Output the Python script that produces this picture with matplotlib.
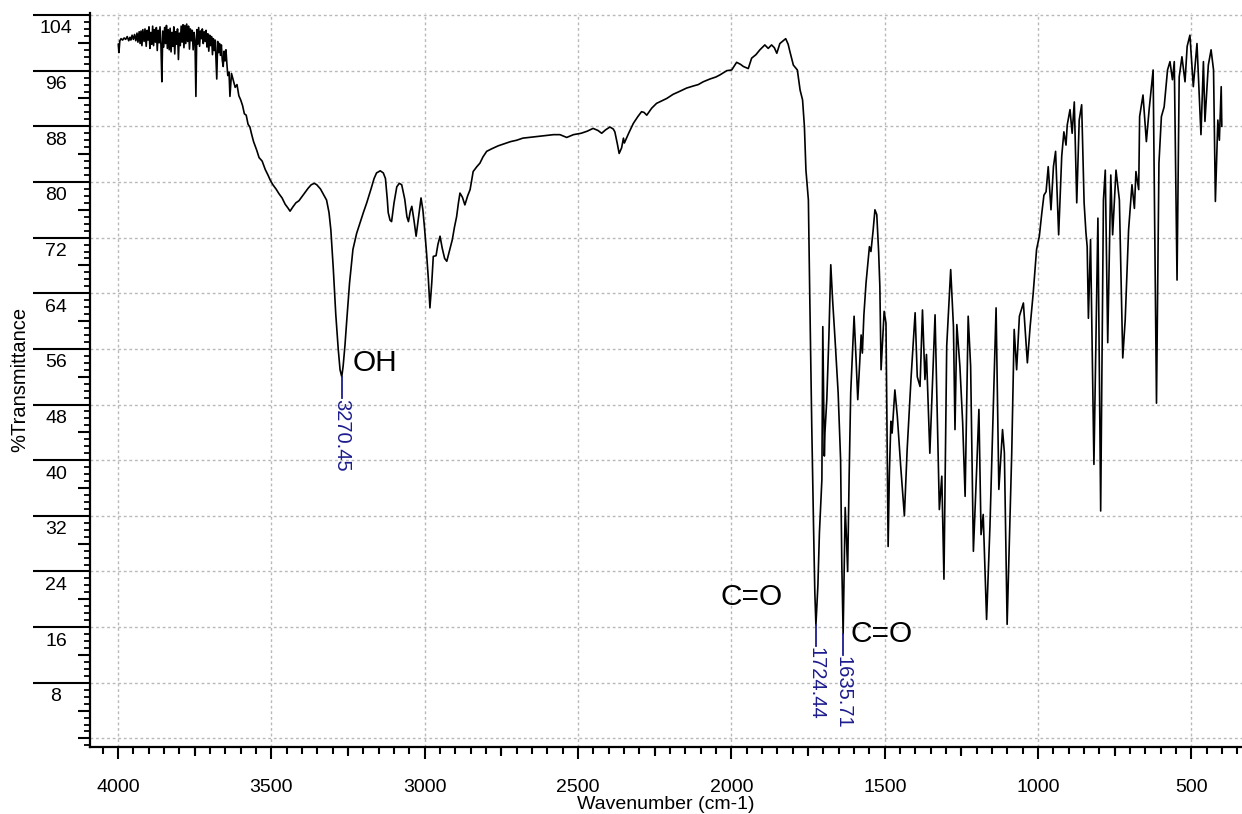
import matplotlib
matplotlib.use('Agg')
import matplotlib.pyplot as plt
from matplotlib.ticker import MultipleLocator

plt.rcParams['font.family'] = ['Liberation Sans', 'DejaVu Sans']

# ---------------- data ----------------
# noisy high-wavenumber region
wn_noise = [
    3999, 3997, 3994, 3990, 3985, 3980, 3975, 3970, 3965, 3961, 3958, 3954, 3950, 3946, 3942, 3938, 3935, 3931, 3928, 3925,
    3922, 3919, 3915, 3912, 3908, 3905, 3902, 3899, 3896, 3893, 3890, 3887, 3884, 3881, 3878, 3875, 3872, 3869, 3866, 3863,
    3860, 3857, 3854, 3851, 3848, 3845, 3842, 3839, 3836, 3833, 3830, 3827, 3824, 3821, 3818, 3815, 3812, 3809, 3806, 3803,
    3800, 3797, 3794, 3791, 3788, 3785, 3782, 3779, 3776, 3773, 3770, 3767, 3764, 3761, 3758, 3755, 3752, 3749, 3746, 3743,
    3740, 3737, 3734, 3731, 3728, 3725, 3722, 3719, 3716, 3713, 3710, 3707, 3704, 3701, 3698, 3695, 3692, 3689, 3686, 3683,
    3680, 3678, 3675, 3672, 3669, 3666, 3663, 3660, 3657, 3654, 3651, 3648, 3645, 3642, 3638,
]
t_noise = [
    99.8, 98.6, 100.3, 100.6, 100.4, 100.7, 100.5, 100.9, 100.3, 100.8, 100.4, 101.1, 100.5, 101.2, 100.3, 101.4, 100.1, 101.6, 99.9, 101.7,
    99.6, 101.9, 100.2, 102.0, 99.5, 101.8, 100.4, 102.3, 99.2, 101.5, 99.8, 102.4, 99.6, 101.9, 100.1, 102.2, 98.9, 101.8, 100.0, 102.3,
    99.7, 94.4, 101.7, 99.4, 102.2, 99.9, 102.5, 99.2, 101.9, 99.0, 102.1, 98.7, 101.5, 99.5, 102.3, 98.4, 101.6, 99.8, 102.0, 97.6,
    101.4, 99.6, 102.4, 100.1, 102.6, 99.3, 102.5, 99.9, 102.7, 100.2, 102.4, 99.1, 102.0, 100.3, 101.8, 99.0, 101.5, 100.4, 92.3, 101.9,
    99.8, 102.2, 99.5, 101.7, 100.6, 102.0, 99.9, 101.6, 100.2, 101.8, 99.4, 101.3, 98.8, 101.1, 99.6, 100.9, 98.3, 100.6, 98.9, 100.4,
    97.0, 94.8, 100.2, 98.6, 99.9, 98.2, 99.7, 97.5, 96.6, 98.8, 97.4, 99.0, 97.0, 95.3, 95.8,
]
# rest of the spectrum
wn_main = [
    3635, 3630, 3624, 3618, 3612, 3606, 3600, 3594, 3588, 3582, 3576, 3570, 3564,
    3558, 3548, 3540, 3530, 3520, 3510, 3504, 3495, 3485, 3475, 3465, 3455, 3445, 3439, 3430,
    3420, 3410, 3400, 3390, 3380, 3370, 3360, 3352, 3340, 3330, 3320, 3312, 3306, 3298, 3290,
    3282, 3276, 3270.45, 3266, 3260, 3254, 3245, 3234, 3222, 3211, 3200, 3189, 3175, 3165, 3157,
    3145, 3135, 3128, 3122, 3119, 3113, 3108, 3100, 3091, 3083, 3075, 3065, 3058, 3053, 3047,
    3042, 3035, 3028, 3020, 3012, 3006, 3001, 2994, 2988, 2983, 2977, 2972, 2963, 2957, 2950,
    2943, 2935, 2928, 2920, 2910, 2903, 2896, 2890, 2885, 2877, 2869, 2860, 2852, 2842, 2830,
    2820, 2810, 2798, 2780, 2760, 2740, 2720, 2700, 2680, 2660, 2640, 2620, 2600, 2580, 2559,
    2537, 2515, 2490, 2470, 2451, 2435, 2423, 2410, 2396, 2385, 2380, 2372, 2366, 2358, 2352,
    2349, 2335, 2320, 2305, 2293, 2285, 2276, 2260, 2244, 2230, 2211, 2190, 2170, 2146, 2124,
    2108, 2092, 2070, 2050, 2037, 2015, 1999, 1983, 1970, 1961, 1945, 1934, 1920, 1907, 1891,
    1880, 1869, 1860, 1852, 1842, 1823, 1815, 1809, 1798, 1785, 1776, 1768, 1762, 1757, 1749,
    1745, 1738, 1732, 1728, 1724.44, 1718, 1713, 1705, 1702, 1699, 1697, 1695, 1689, 1682, 1676,
    1670, 1662, 1655, 1652, 1644, 1640, 1635.71, 1629, 1625, 1621, 1616, 1611, 1600, 1594, 1588,
    1577, 1573, 1568, 1561, 1550, 1545, 1538, 1532, 1526, 1520, 1516, 1512, 1502, 1496, 1489,
    1485, 1480, 1476, 1467, 1459, 1448, 1436, 1427, 1414, 1401, 1394, 1385, 1377, 1369, 1364,
    1353, 1336, 1322, 1314, 1307, 1298, 1285, 1276, 1271, 1265, 1255, 1246, 1238, 1228, 1220,
    1211, 1200, 1193, 1186, 1179, 1168, 1157, 1146, 1137, 1128, 1116, 1110, 1101, 1086, 1078,
    1070, 1061, 1048, 1035, 1026, 1016, 1005, 996, 988, 981, 974, 967, 958, 950, 943,
    933, 923, 916, 909, 905, 896, 889, 882, 874, 866, 858, 850, 844, 840, 836,
    829, 818, 805, 796, 787, 781, 773, 763, 757, 746, 735, 724, 716, 705, 694,
    686, 681, 672, 669, 658, 647, 638, 625, 614, 606, 598, 589, 578, 570, 562,
    556, 547, 540, 531, 521, 514, 505, 494, 482, 469, 461, 456, 445, 436, 428,
    422, 414, 409, 403, 401,
]
t_main = [
    92.3, 95.6, 94.6, 93.6, 94.0, 92.4, 91.8, 91.0, 89.8, 89.6, 88.3, 87.9, 86.8,
    85.8, 84.6, 83.5, 83.0, 81.8, 80.9, 80.3, 79.6, 79.0, 78.3, 77.7, 76.8, 76.2, 75.8, 76.4,
    77.0, 77.3, 77.9, 78.5, 79.1, 79.6, 79.8, 79.6, 79.0, 78.2, 77.4, 75.6, 73.1, 67.5, 61.0,
    56.0, 53.0, 52.0, 53.5, 56.5, 60.2, 65.5, 70.3, 72.6, 74.1, 75.6, 77.0, 79.0, 80.5, 81.3,
    81.6, 81.3, 80.5, 77.5, 75.6, 74.5, 74.3, 77.0, 79.3, 79.8, 79.6, 77.5, 75.0, 74.3, 75.8,
    76.5, 74.5, 72.2, 75.0, 77.7, 76.0, 73.6, 69.8, 66.0, 61.9, 65.5, 69.3, 69.4, 71.0, 72.2,
    70.5, 69.0, 68.6, 70.0, 71.7, 73.5, 75.0, 77.0, 78.4, 77.8, 76.7, 78.0, 78.9, 81.5, 82.2,
    82.7, 83.6, 84.4, 84.8, 85.2, 85.5, 85.8, 86.0, 86.3, 86.4, 86.5, 86.6, 86.7, 86.8, 86.8,
    86.4, 86.8, 87.0, 87.3, 87.7, 87.4, 87.0, 87.5, 87.9, 87.6, 87.2, 85.5, 84.1, 84.9, 86.3,
    85.6, 87.0, 88.4, 89.4, 90.1, 90.0, 89.6, 90.6, 91.3, 91.6, 92.0, 92.6, 93.0, 93.5, 93.8,
    94.0, 94.4, 94.8, 95.1, 95.4, 96.0, 96.1, 97.2, 96.9, 96.6, 96.3, 97.8, 98.3, 99.0, 99.7,
    99.2, 99.7, 99.3, 98.5, 99.9, 100.6, 99.8, 98.7, 96.8, 96.1, 93.2, 91.8, 88.0, 81.7, 77.4,
    65.0, 44.9, 30.0, 21.0, 16.3, 22.0, 29.6, 37.2, 59.2, 48.0, 40.6, 44.0, 48.7, 58.0, 68.1,
    63.0, 57.3, 52.0, 49.7, 40.1, 25.0, 15.0, 33.2, 29.0, 24.0, 38.0, 49.7, 60.7, 55.0, 48.7,
    58.0, 55.4, 60.9, 65.5, 70.7, 70.0, 73.0, 76.0, 75.3, 70.0, 65.0, 53.0, 61.4, 59.7, 27.6,
    38.0, 45.6, 43.9, 50.1, 46.3, 39.1, 32.0, 41.5, 52.0, 61.2, 52.0, 50.6, 61.6, 51.6, 55.2,
    41.0, 60.9, 32.9, 37.7, 22.9, 56.4, 67.4, 59.2, 44.4, 59.5, 53.5, 45.4, 34.8, 60.7, 53.5,
    26.9, 39.1, 47.3, 29.3, 32.2, 17.1, 30.5, 47.7, 61.9, 35.8, 44.4, 41.1, 16.4, 41.0, 58.8,
    53.0, 60.7, 62.6, 54.0, 59.2, 64.0, 70.3, 72.2, 75.5, 78.1, 78.6, 82.2, 76.0, 82.2, 84.4,
    72.4, 83.7, 87.2, 85.3, 88.2, 90.4, 87.0, 91.5, 77.0, 88.9, 91.1, 77.0, 72.7, 70.7, 60.4,
    71.7, 39.4, 74.8, 32.7, 77.4, 81.7, 56.9, 81.0, 72.4, 81.7, 77.4, 54.7, 60.2, 73.1, 79.6,
    76.2, 81.5, 78.9, 89.4, 92.5, 85.8, 90.4, 96.1, 48.2, 82.7, 89.4, 90.8, 96.1, 97.3, 94.7,
    97.3, 65.9, 95.1, 98.0, 94.4, 99.5, 101.1, 93.7, 99.9, 86.8, 97.3, 88.7, 96.8, 99.0, 96.1,
    77.2, 88.9, 86.0, 93.7, 88.0,
]
wavenumber = wn_noise + wn_main
transmittance = t_noise + t_main
assert len(wavenumber) == len(transmittance)

peak_wn = [3270.45, 1724.44, 1635.71]
peak_T = [52.0, 16.3, 15.0]
peak_labels = ['3270.45', '1724.44', '1635.71']
group_labels = ['OH', 'C=O', 'C=O']

x_major = [4000, 3500, 3000, 2500, 2000, 1500, 1000, 500]
x_medium = [3750, 3250, 2750, 2250, 1750, 1250, 750]
y_major = list(range(8, 105, 8))
y_medium = [0] + list(range(4, 101, 8))

BLUE = '#1c1c8e'
GRID = '#b8b8b8'

fig = plt.figure(figsize=(12.42, 8.14), dpi=100)
ax = fig.add_axes([90 / 1242, (814 - 746.7) / 814, 1152 / 1242, 733.7 / 814])

ax.plot(wavenumber, transmittance, color='black', lw=1.2, zorder=3)

ax.set_xlim(4091.3, 335.2)
ax.set_ylim(-1.19, 104.29)

for s in ['top', 'right']:
    ax.spines[s].set_visible(False)
for s in ['left', 'bottom']:
    ax.spines[s].set_linewidth(1.6)

# grid
ax.set_axisbelow(True)
ax.grid(True, which='major', color=GRID, linestyle=(0, (2, 2)), linewidth=1.0)
ax.axhline(0, color=GRID, linestyle=(0, (2, 2)), linewidth=1.0, zorder=0)

# x ticks
ax.set_xticks(x_major)
ax.set_xticklabels([str(v) for v in x_major])
ax.xaxis.set_minor_locator(MultipleLocator(50))
ax.tick_params(axis='x', which='major', length=8.6, width=1.5, labelsize=14, pad=15)
ax.tick_params(axis='x', which='minor', length=4.8, width=1.5)
secx = ax.secondary_xaxis('bottom')
secx.set_xticks(x_medium)
secx.tick_params(length=6.7, width=1.5, labelbottom=False)
secx.spines['bottom'].set_visible(False)

# y ticks: long lines with the labels below them
ax.set_yticks(y_major)
ax.yaxis.set_minor_locator(MultipleLocator(1))
ax.tick_params(axis='y', which='major', length=41, width=1.5, labelleft=False)
ax.tick_params(axis='y', which='minor', length=4.0, width=1.3)
secy = ax.secondary_yaxis('left')
secy.set_yticks(y_medium)
secy.tick_params(length=8.6, width=1.5, labelleft=False)
secy.spines['left'].set_visible(False)
for v in y_major:
    ax.annotate(str(v), xy=(0, v), xycoords=('axes fraction', 'data'),
                xytext=(-24.5, -10), textcoords='offset points',
                ha='center', va='center', fontsize=14)

# peak markers
for wn, t, lab in zip(peak_wn, peak_T, peak_labels):
    ax.plot([wn, wn], [t, t - 3.0], color=BLUE, lw=1.3, zorder=4)
    ax.text(wn, t - 3.2, lab, rotation=270, ha='center', va='top',
            color=BLUE, fontsize=14.5)

# functional group labels
ax.text(3234, 54.0, group_labels[0], fontsize=21.5, ha='left', va='center')
ax.text(2037, 20.3, group_labels[1], fontsize=21.5, ha='left', va='center')
ax.text(1613, 15.0, group_labels[2], fontsize=21.5, ha='left', va='center')

ax.set_xlabel('Wavenumber (cm-1)', fontsize=14)
ax.xaxis.set_label_coords(0.5, -0.067)
ax.set_ylabel('%Transmittance', fontsize=14.5)
ax.yaxis.set_label_coords(-0.0525, 0.5)

fig.savefig('out.png', dpi=100)
